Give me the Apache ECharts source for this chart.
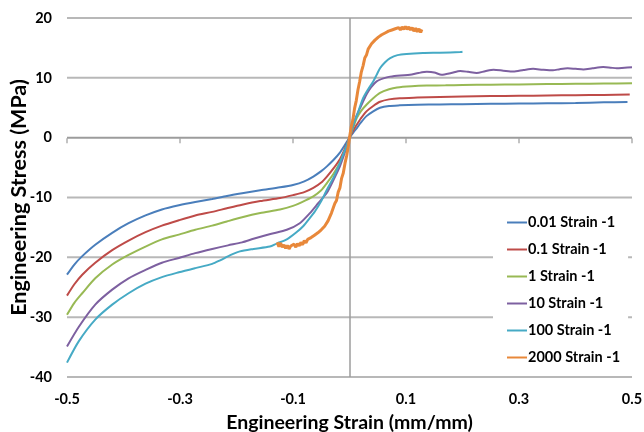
<!DOCTYPE html>
<html>
<head>
<meta charset="utf-8">
<script src="https://cdn.jsdelivr.net/npm/echarts@6/dist/echarts.min.js"></script>
<style>html,body{margin:0;padding:0;background:#fff}#c{width:644px;height:432px}</style>
</head>
<body>
<div id="c"></div>
<script>
var seriesNames = ['0.01 Strain -1', '0.1 Strain -1', '1 Strain -1', '10 Strain -1', '100 Strain -1', '2000 Strain -1'];
var colors = ['#4A7EBB', '#BE4B48', '#98B954', '#7D60A0', '#46AAC5', '#E8883A'];
var xTicks = { min: -0.5, max: 0.5, interval: 0.2 };
var yTicks = { min: -40, max: 20, interval: 10 };
var xTickValues = [-0.5, -0.3, -0.1, 0.1, 0.3, 0.5];
var yTickValues = [-40, -30, -20, -10, 0, 10, 20];

var s001 = [[-0.5,-22.9],[-0.487,-21.2],[-0.473,-19.8],[-0.45,-17.9],[-0.42,-15.9],[-0.391,-14.3],[-0.361,-13.0],[-0.332,-12.0],[-0.302,-11.3],[-0.273,-10.75],[-0.243,-10.25],[-0.217,-9.75],[-0.19,-9.3],[-0.158,-8.8],[-0.123,-8.3],[-0.1,-7.9],[-0.08,-7.3],[-0.064,-6.5],[-0.05,-5.6],[-0.04,-4.8],[-0.028,-3.7],[-0.017,-2.5],[-0.008,-1.2],[0,0],[0.007,0.9],[0.013,1.6],[0.02,2.5],[0.03,3.6],[0.042,4.4],[0.054,5.0],[0.07,5.3],[0.089,5.4],[0.12,5.5],[0.16,5.55],[0.2,5.6],[0.25,5.65],[0.3,5.7],[0.35,5.75],[0.4,5.8],[0.45,5.9],[0.492,5.95]];
var s01 = [[-0.5,-26.4],[-0.487,-24.5],[-0.473,-22.9],[-0.45,-20.9],[-0.42,-18.8],[-0.391,-17.2],[-0.361,-15.8],[-0.332,-14.7],[-0.302,-13.8],[-0.273,-13.0],[-0.243,-12.4],[-0.217,-11.8],[-0.19,-11.2],[-0.158,-10.6],[-0.123,-10.1],[-0.1,-9.6],[-0.08,-9.1],[-0.064,-8.4],[-0.05,-7.5],[-0.04,-6.5],[-0.028,-5.1],[-0.017,-3.6],[-0.008,-1.8],[0,0],[0.007,1.3],[0.013,2.2],[0.02,3.2],[0.03,4.4],[0.042,5.3],[0.054,6.0],[0.07,6.4],[0.089,6.6],[0.12,6.7],[0.16,6.8],[0.2,6.9],[0.25,6.95],[0.3,7.0],[0.35,7.05],[0.4,7.1],[0.45,7.15],[0.496,7.2]];
var s1 = [[-0.5,-29.6],[-0.487,-27.6],[-0.473,-26.0],[-0.45,-23.5],[-0.42,-21.2],[-0.391,-19.6],[-0.361,-18.2],[-0.332,-17.0],[-0.302,-16.2],[-0.273,-15.4],[-0.243,-14.7],[-0.217,-14.0],[-0.19,-13.3],[-0.158,-12.6],[-0.123,-12.0],[-0.1,-11.4],[-0.085,-10.8],[-0.064,-9.8],[-0.05,-8.8],[-0.04,-7.6],[-0.028,-6.0],[-0.017,-4.2],[-0.008,-2.1],[0,0],[0.007,1.8],[0.013,3.3],[0.02,4.4],[0.03,5.5],[0.042,6.6],[0.054,7.5],[0.07,8.1],[0.084,8.4],[0.11,8.6],[0.137,8.7],[0.17,8.75],[0.2,8.8],[0.25,8.85],[0.3,8.9],[0.35,8.95],[0.4,9.0],[0.45,9.05],[0.5,9.1]];
var s10 = [[-0.5,-34.9],[-0.479,-31.6],[-0.45,-27.9],[-0.42,-25.4],[-0.391,-23.5],[-0.361,-22.1],[-0.332,-20.9],[-0.302,-20.1],[-0.273,-19.3],[-0.243,-18.6],[-0.215,-18.0],[-0.19,-17.5],[-0.17,-16.9],[-0.14,-16.1],[-0.111,-15.4],[-0.088,-14.3],[-0.07,-12.6],[-0.055,-10.9],[-0.04,-9.2],[-0.028,-7.0],[-0.017,-4.8],[-0.008,-2.4],[0,0],[0.007,2.2],[0.013,3.8],[0.02,5.2],[0.03,7.2],[0.038,8.4],[0.048,9.4],[0.06,9.9],[0.072,10.2],[0.09,10.4],[0.107,10.5],[0.122,10.8],[0.137,11.0],[0.15,10.9],[0.163,10.5],[0.18,10.8],[0.196,11.15],[0.21,11.0],[0.225,10.8],[0.24,11.1],[0.255,11.35],[0.272,11.2],[0.29,11.05],[0.308,11.3],[0.325,11.5],[0.342,11.35],[0.36,11.25],[0.372,11.45],[0.386,11.6],[0.4,11.5],[0.414,11.4],[0.43,11.6],[0.449,11.8],[0.462,11.7],[0.473,11.6],[0.487,11.7],[0.5,11.75]];
var s100 = [[-0.5,-37.6],[-0.479,-34.0],[-0.45,-30.4],[-0.42,-27.9],[-0.391,-26.0],[-0.361,-24.4],[-0.332,-23.3],[-0.302,-22.5],[-0.273,-21.8],[-0.243,-21.1],[-0.229,-20.5],[-0.21,-19.6],[-0.194,-19.0],[-0.17,-18.6],[-0.141,-18.2],[-0.129,-17.7],[-0.111,-17.0],[-0.095,-15.9],[-0.082,-14.8],[-0.07,-13.4],[-0.061,-12.3],[-0.05,-10.6],[-0.04,-8.7],[-0.028,-6.6],[-0.017,-4.2],[-0.008,-2.1],[0,0],[0.007,2.2],[0.015,4.2],[0.024,6.6],[0.033,8.1],[0.042,9.4],[0.048,10.5],[0.054,11.6],[0.063,12.6],[0.072,13.3],[0.085,13.8],[0.101,14.0],[0.13,14.15],[0.16,14.2],[0.196,14.3],[0.2,14.35]];
var s2000 = [[-0.128,-17.5],[-0.125,-18.2],[-0.122,-17.6],[-0.119,-18.3],[-0.116,-17.9],[-0.113,-18.5],[-0.110,-18.0],[-0.107,-18.6],[-0.104,-18.1],[-0.101,-18.4],[-0.098,-17.8],[-0.095,-18.3],[-0.092,-17.7],[-0.089,-18.1],[-0.086,-17.5],[-0.083,-17.9],[-0.080,-17.2],[-0.077,-17.6],[-0.074,-17.0],[-0.071,-17.3],[-0.068,-16.7],[-0.065,-17.0],[-0.062,-16.3],[-0.059,-16.6],[-0.056,-15.9],[-0.053,-16.2],[-0.050,-15.4],[-0.047,-15.6],[-0.044,-14.8],[-0.041,-14.9],[-0.038,-13.9],[-0.035,-13.8],[-0.032,-12.6],[-0.029,-12.4],[-0.026,-11.0],[-0.023,-10.5],[-0.020,-9.1],[-0.017,-8.4],[-0.014,-6.8],[-0.011,-5.9],[-0.008,-4.3],[-0.005,-3.0],[-0.002,-1.4],[0,0],[0.003,1.8],[0.006,3.0],[0.009,4.9],[0.012,6.2],[0.015,8.0],[0.018,9.4],[0.021,11.0],[0.024,12.0],[0.027,13.3],[0.030,13.8],[0.033,14.8],[0.036,15.0],[0.039,15.7],[0.042,15.8],[0.045,16.3],[0.048,16.2],[0.051,16.8],[0.054,16.6],[0.057,17.2],[0.060,17.0],[0.063,17.5],[0.066,17.3],[0.069,17.8],[0.072,17.5],[0.075,18.0],[0.078,17.7],[0.081,18.2],[0.084,17.9],[0.087,18.4],[0.090,18.0],[0.093,18.5],[0.096,18.1],[0.099,18.6],[0.102,18.1],[0.105,18.5],[0.108,18.0],[0.111,18.4],[0.114,17.8],[0.117,18.3],[0.120,17.7],[0.123,18.2],[0.126,17.6],[0.128,18.1]];

var allData = [s001, s01, s1, s10, s100, s2000];
var FONT = 'Lato';
var AXIS_GRAY = '#9c9c9c';
var GRID_GRAY = '#b8b8b8';

var chart = echarts.init(document.getElementById('c'));

var gridSeries = {
  name: 'gridlines',
  type: 'custom',
  silent: true,
  z: 1,
  data: yTickValues.map(function (v) { return [xTicks.min, v]; }),
  renderItem: function (params, api) {
    var v = api.value(1);
    var p1 = api.coord([xTicks.min, v]);
    var p2 = api.coord([xTicks.max, v]);
    return {
      type: 'rect',
      shape: { x: p1[0], y: p1[1] - 1, width: p2[0] - p1[0], height: 2 },
      style: { fill: v === 0 ? AXIS_GRAY : GRID_GRAY }
    };
  }
};

var series = [gridSeries].concat(allData.map(function (d, i) {
  return {
    name: seriesNames[i],
    type: 'line',
    data: d,
    symbol: 'none',
    smooth: i === 5 ? false : 0.25,
    lineStyle: { color: colors[i], width: i === 5 ? 3 : 2 },
    itemStyle: { color: colors[i] },
    z: 3 + i
  };
}));
series[1].markLine = {
  silent: true,
  symbol: 'none',
  label: { show: false },
  lineStyle: { color: AXIS_GRAY, type: 'solid', width: 1.5 },
  data: [{ xAxis: 0 }]
};
series.push({
  name: 'ticks',
  type: 'scatter',
  silent: true,
  data: xTickValues.map(function (v) { return [v, 0]; }),
  symbol: 'rect',
  symbolSize: [1.5, 5],
  symbolOffset: [0, 3],
  itemStyle: { color: AXIS_GRAY },
  z: 1
});

chart.setOption({
  animation: false,
  textStyle: { fontFamily: FONT },
  grid: { left: 67, right: 12, top: 18, bottom: 55, outerBoundsMode: 'none' },
  legend: {
    orient: 'vertical',
    left: 493,
    top: 209,
    padding: [6, 8, 6, 14],
    backgroundColor: '#ffffff',
    icon: 'rect',
    itemWidth: 20,
    itemHeight: 2,
    itemGap: 12,
    data: seriesNames,
    textStyle: { fontFamily: FONT, fontWeight: 'bold', fontSize: 14.5, color: '#000', padding: [0, 0, 0, -4] }
  },
  xAxis: {
    type: 'value',
    min: xTicks.min, max: xTicks.max, interval: xTicks.interval,
    name: 'Engineering Strain (mm/mm)', nameLocation: 'middle', nameGap: 36, nameMoveOverlap: false,
    nameTextStyle: { fontFamily: FONT, fontWeight: 'bold', fontSize: 19.5, color: '#000' },
    axisLine: { show: false, onZero: false }, axisTick: { show: false }, splitLine: { show: false },
    axisLabel: { fontFamily: FONT, fontWeight: 'bold', fontSize: 14.5, color: '#000', margin: 15,
      formatter: function (v) { return (Math.round(v * 10) / 10).toString(); } }
  },
  yAxis: {
    type: 'value',
    min: yTicks.min, max: yTicks.max, interval: yTicks.interval,
    name: 'Engineering Stress (MPa)', nameLocation: 'middle', nameGap: 37, nameMoveOverlap: false,
    nameTextStyle: { fontFamily: FONT, fontWeight: 'bold', fontSize: 21.5, color: '#000' },
    axisLine: { show: false }, axisTick: { show: false },
    splitLine: { show: false },
    axisLabel: { fontFamily: FONT, fontWeight: 'bold', fontSize: 14.5, color: '#000', margin: 15 }
  },
  series: series
});
</script>
</body>
</html>
